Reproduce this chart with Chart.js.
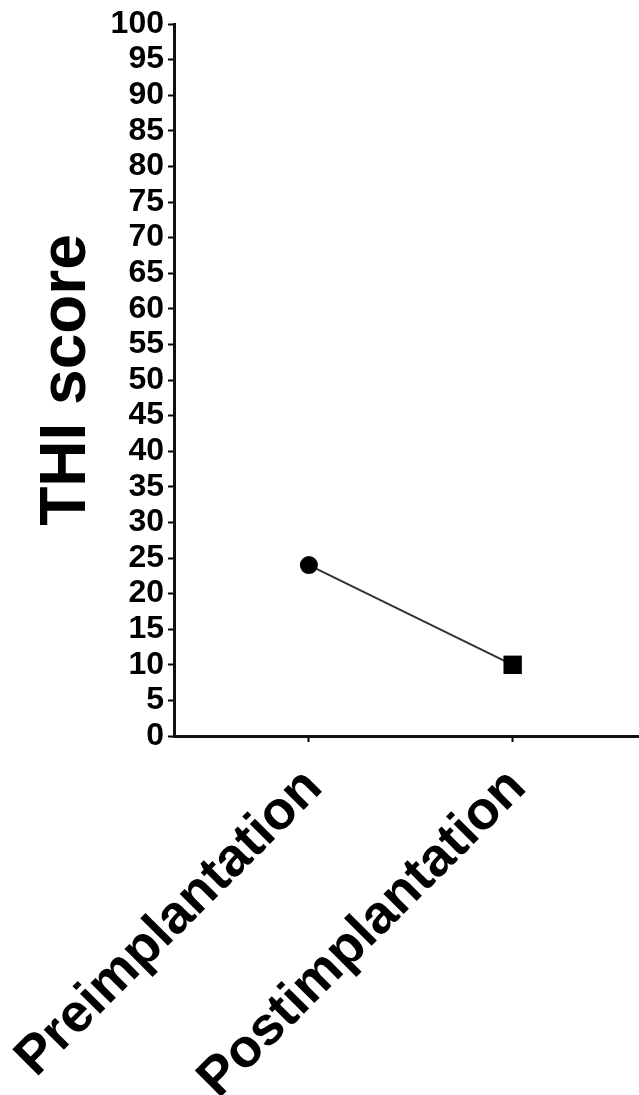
<!DOCTYPE html>
<html>
<head>
<meta charset="utf-8">
<script src="https://cdn.jsdelivr.net/npm/chart.js@4.4.1/dist/chart.umd.min.js"></script>
<style>
  html, body { margin: 0; padding: 0; background: #fff; }
  #wrap { width: 639px; height: 1095px; position: relative; }
</style>
</head>
<body>
<div id="wrap"><canvas id="c"></canvas></div>
<script>
const categories = ['Preimplantation', 'Postimplantation'];
const thiScores = [24, 10];
const pointShapes = ['circle', 'rect'];
const yMin = 0;
const yMax = 100;
const yStep = 5;
const yAxisTitle = 'THI score';

const FONT = "'Liberation Sans', Arial, Helvetica, sans-serif";
const points = thiScores.map((v, i) => ({ x: i + 1, y: v }));

new Chart(document.getElementById('c'), {
  type: 'line',
  data: {
    datasets: [{
      data: points,
      borderColor: '#333',
      borderWidth: 2,
      pointStyle: pointShapes,
      pointRadius: [9, 13],
      pointBackgroundColor: '#000',
      pointBorderColor: '#000',
      pointBorderWidth: 0,
      tension: 0,
      fill: false,
      clip: false
    }]
  },
  options: {
    responsive: true,
    maintainAspectRatio: false,
    animation: false,
    layout: { autoPadding: false, padding: { top: 24, right: 0, left: 0, bottom: 0 } },
    plugins: { legend: { display: false }, tooltip: { enabled: false } },
    scales: {
      x: {
        type: 'linear',
        min: 0.338,
        max: 2.62,
        afterBuildTicks: (scale) => {
          scale.ticks = categories.map((c, i) => ({ value: i + 1 }));
        },
        afterFit: (scale) => {
          scale.height = 359;
          scale.paddingLeft = 0;
          scale.paddingRight = 0;
        },
        border: { display: true, color: '#111', width: 3 },
        grid: { display: true, drawOnChartArea: false, drawTicks: true, tickLength: 6, tickWidth: 2, color: '#000' },
        ticks: {
          autoSkip: false,
          maxRotation: 45,
          minRotation: 45,
          padding: 14,
          labelOffset: 5,
          color: '#000',
          font: { family: FONT, size: 54, weight: 'bold' },
          callback: (v) => categories[Math.round(v) - 1] || ''
        }
      },
      y: {
        type: 'linear',
        min: yMin,
        max: yMax,
        afterFit: (scale) => {
          scale.width = 174;
          scale.paddingTop = 0;
          scale.paddingBottom = 0;
        },
        border: { display: true, color: '#111', width: 3 },
        grid: { display: true, drawOnChartArea: false, drawTicks: true, tickLength: 6, tickWidth: 2, color: '#000' },
        ticks: {
          stepSize: yStep,
          autoSkip: false,
          padding: 4,
          color: '#000',
          font: { family: FONT, size: 32, weight: 'bold' }
        },
        title: {
          display: true,
          text: yAxisTitle,
          color: '#000',
          font: { family: FONT, size: 64, weight: 'bold' },
          padding: { top: 29, bottom: 0 }
        }
      }
    }
  }
});
</script>
</body>
</html>
